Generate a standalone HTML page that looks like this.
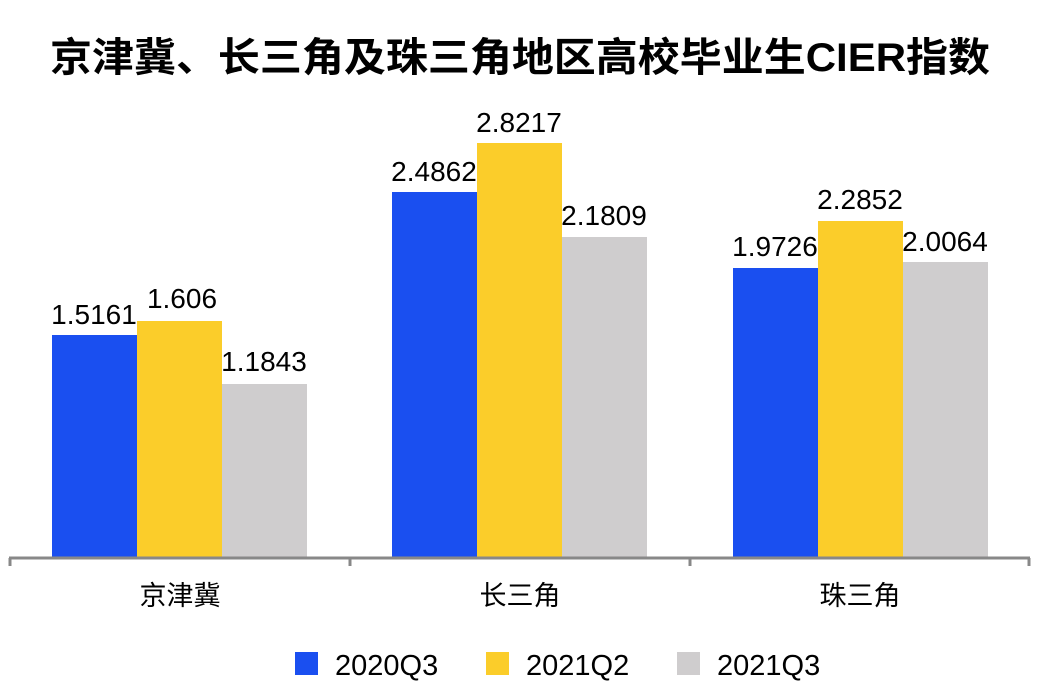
<!DOCTYPE html>
<html><head><meta charset="utf-8"><style>
body{margin:0;background:#fff;width:1037px;height:688px;overflow:hidden}
svg text{font-family:"Liberation Sans","Noto Sans CJK SC",sans-serif}
</style></head><body>
<svg width="1037" height="688" viewBox="0 0 1037 688">
<text x="50" y="71" font-size="40" font-weight="bold" fill="#000" textLength="940" lengthAdjust="spacingAndGlyphs">京津冀、长三角及珠三角地区高校毕业生CIER指数</text>
<g>
<rect x="52" y="335" width="85" height="223" fill="#1a4ff0"/>
<rect x="137" y="321" width="85" height="237" fill="#fbcd2a"/>
<rect x="222" y="384" width="85" height="174" fill="#cfcdce"/>
<rect x="392" y="192" width="85" height="366" fill="#1a4ff0"/>
<rect x="477" y="143" width="85" height="415" fill="#fbcd2a"/>
<rect x="562" y="237" width="85" height="321" fill="#cfcdce"/>
<rect x="733" y="268" width="85" height="290" fill="#1a4ff0"/>
<rect x="818" y="221" width="85" height="337" fill="#fbcd2a"/>
<rect x="903" y="262" width="85" height="296" fill="#cfcdce"/>
</g>
<g stroke="#888" stroke-width="3" fill="none">
<line x1="9" y1="558" x2="1030" y2="558"/>
<line x1="10" y1="558" x2="10" y2="566"/>
<line x1="350" y1="558" x2="350" y2="566"/>
<line x1="690" y1="558" x2="690" y2="566"/>
<line x1="1029" y1="558" x2="1029" y2="566"/>
</g>
<g font-size="28" fill="#000" text-anchor="middle">
<text x="94" y="324">1.5161</text>
<text x="182" y="308">1.606</text>
<text x="264" y="371">1.1843</text>
<text x="434" y="181">2.4862</text>
<text x="519" y="132">2.8217</text>
<text x="604" y="225">2.1809</text>
<text x="775" y="256">1.9726</text>
<text x="860" y="209">2.2852</text>
<text x="945" y="251">2.0064</text>
</g>
<g font-size="27" fill="#000" text-anchor="middle">
<text x="180" y="605">京津冀</text>
<text x="520" y="605">长三角</text>
<text x="860" y="605">珠三角</text>
</g>
<rect x="295" y="652" width="23" height="23" fill="#1a4ff0"/>
<rect x="486" y="652" width="23" height="23" fill="#fbcd2a"/>
<rect x="677" y="652" width="23" height="23" fill="#cfcdce"/>
<g font-size="29" fill="#000">
<text x="335" y="675">2020Q3</text>
<text x="526" y="675">2021Q2</text>
<text x="717" y="675">2021Q3</text>
</g>
</svg>
</body></html>
